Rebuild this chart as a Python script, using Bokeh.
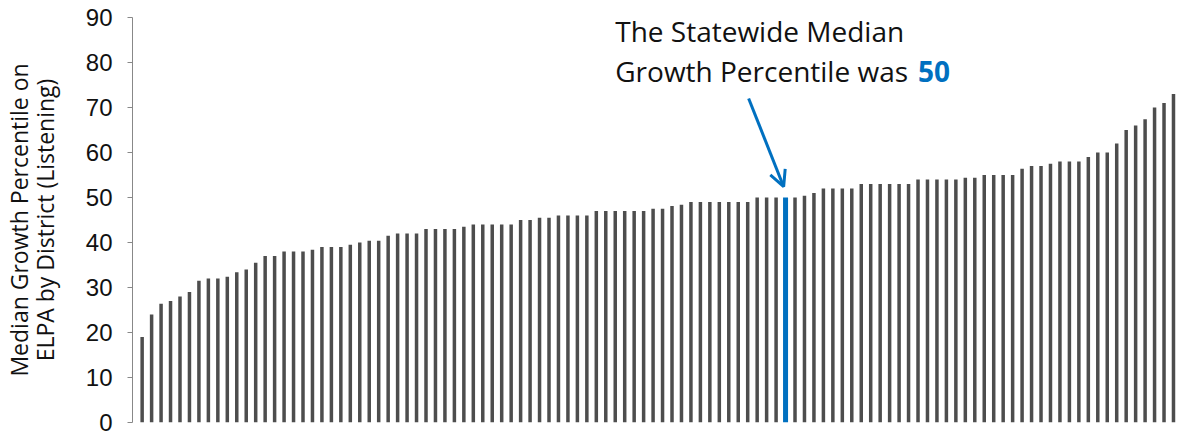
from bokeh.plotting import figure
from bokeh.models import Range1d, Label, Arrow, OpenHead, FixedTicker, ColumnDataSource
from bokeh.embed import file_html
from bokeh.resources import INLINE

# Median growth percentile per district (sorted ascending)
district_mgp = [
    19.0, 24.0, 26.4, 27.0, 28.0, 29.0, 31.5, 32.0, 32.0, 32.4,
    33.4, 34.0, 35.5, 37.0, 37.0, 38.0, 38.0, 38.0, 38.4, 39.0,
    39.0, 39.0, 39.5, 40.0, 40.4, 40.4, 41.5, 42.0, 42.0, 42.0,
    43.0, 43.0, 43.0, 43.0, 43.5, 44.0, 44.0, 44.0, 44.0, 44.0,
    45.0, 45.0, 45.5, 45.5, 46.0, 46.0, 46.0, 46.0, 47.0, 47.0,
    47.0, 47.0, 47.0, 47.0, 47.5, 47.5, 48.1, 48.4, 49.0, 49.0,
    49.0, 49.0, 49.0, 49.0, 49.0, 50.0, 50.0, 50.0, 50.0, 50.0,
    50.4, 51.0, 52.0, 52.0, 52.0, 52.0, 53.0, 53.0, 53.0, 53.0,
    53.0, 53.0, 54.0, 54.0, 54.0, 54.0, 54.0, 54.4, 54.4, 55.0,
    55.0, 55.0, 55.0, 56.4, 57.0, 57.0, 57.5, 58.0, 58.0, 58.0,
    59.0, 60.0, 60.0, 62.0, 65.0, 66.0, 67.4, 70.0, 71.0, 73.0,
]
district_pos = list(range(1, len(district_mgp) + 1))
median_pos = 69          # position of the statewide median bar
statewide_median = 50
y_ticks = [0, 10, 20, 30, 40, 50, 60, 70, 80, 90]

GRAY = "#4d4d4d"
BLUE = "#0070c0"

p = figure(width=1180, height=437, output_backend="svg", toolbar_location=None,
           x_range=Range1d(-0.02, 110.53), y_range=Range1d(0, 90),
           min_border_left=128, min_border_right=2, min_border_top=17, min_border_bottom=15)
p.outline_line_color = None
p.grid.visible = False
p.xaxis.visible = False
p.background_fill_color = "white"
p.border_fill_color = "white"

src = ColumnDataSource(dict(x=[x for x in district_pos if x != median_pos],
                            top=[v for x, v in zip(district_pos, district_mgp) if x != median_pos]))
p.vbar(x="x", top="top", width=0.37, bottom=0, source=src, fill_color=GRAY, line_color=None)
p.vbar(x=[median_pos], top=[statewide_median], width=0.53, bottom=0,
       fill_color=BLUE, line_color=None)

ax = p.yaxis[0]
ax.ticker = FixedTicker(ticks=y_ticks)
ax.axis_line_color = "#888888"
ax.major_tick_line_color = "#888888"
ax.major_tick_out = 5
ax.major_tick_in = 0
ax.minor_tick_out = 0
ax.minor_tick_in = 0
ax.major_label_text_font = "Liberation Sans"
ax.major_label_text_font_size = "24px"
ax.major_label_text_color = "#111111"
ax.major_label_standoff = 15
ax.axis_label = "Median Growth Percentile on\nELPA by District (Listening)"
ax.axis_label_text_font = "Open Sans"
ax.axis_label_text_font_style = "normal"
ax.axis_label_text_font_size = "23px"
ax.axis_label_text_line_height = 0.8
ax.axis_label_text_color = "#111111"
ax.axis_label_standoff = 22

p.add_layout(Label(x=51.0, y=86.9, text="The Statewide Median", text_font="Open Sans",
                   text_font_size="28px", text_color="#111111", text_baseline="alphabetic"))
p.add_layout(Label(x=51.0, y=78.1, text="Growth Percentile was", text_font="Open Sans",
                   text_font_size="28px", text_color="#111111", text_baseline="alphabetic"))
p.add_layout(Label(x=83.0, y=78.1, text=str(statewide_median), text_font="Open Sans",
                   text_font_size="28px", text_font_style="bold", text_color=BLUE,
                   text_baseline="alphabetic"))

p.add_layout(Arrow(end=OpenHead(size=16, line_color=BLUE, line_width=3),
                   x_start=median_pos - 3.9, y_start=72.0,
                   x_end=median_pos - 0.2, y_end=statewide_median + 2.4,
                   line_color=BLUE, line_width=3))

open("out.html", "w").write(file_html(p, INLINE))
